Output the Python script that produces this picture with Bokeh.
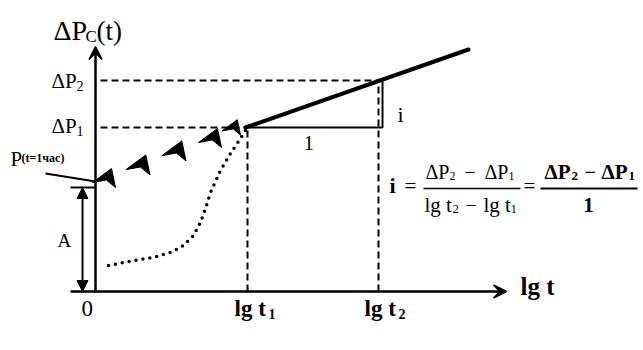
from bokeh.plotting import figure
from bokeh.models import Range1d, Arrow, VeeHead, NormalHead
from bokeh.core.properties import value
from bokeh.embed import file_html
from bokeh.resources import INLINE

# ---- schematic values (1 unit = 10 px) ----
LG_T_TICKS = [0.0, 15.2, 28.3]          # 0, lg t1, lg t2
DP_LEVELS = [16.4, 21.1]                # dP1, dP2
A_LEVEL = 10.4                          # A = P(t=1 hour)
P1H_LEVEL = 11.0
STRAIGHT_X = [15.0, 37.3]
STRAIGHT_Y = [16.4, 24.2]
SLOPE_CORNER_X = 28.7
CURVE_X = [1.3, 3.8, 5.8, 7.5, 8.8, 9.8, 10.5, 11.0, 11.5, 12.5, 13.5, 14.5, 15.0]
CURVE_Y = [2.6, 3.1, 3.4, 3.9, 4.6, 5.6, 6.9, 8.3, 9.9, 12.1, 13.8, 15.3, 16.1]
FLOW_X = [1.0, 4.4, 8.0, 11.6, 13.7]
FLOW_Y = [11.2, 12.5, 13.9, 15.2, 16.3]
FLOW_SCALE = [1.0, 1.05, 1.05, 1.0, 0.8]

FONT = value("Liberation Serif")
X0, Y0 = 95.0, 291.0
TEXT_SHIFT = 8.0


def dx(px_):
    return (px_ - X0) / 10.0


def dy(py_):
    return (Y0 - py_) / 10.0


p = figure(width=643, height=350, output_backend="svg", toolbar_location=None,
           x_range=Range1d(dx(0), dx(643)), y_range=Range1d(dy(350), dy(0)),
           x_axis_type=None, y_axis_type=None, min_border=0)
p.grid.visible = False
p.outline_line_color = None
p.background_fill_color = "white"
p.border_fill_color = "white"

# axes
p.add_layout(Arrow(end=VeeHead(size=13, fill_color="black", line_color="black", line_width=1.5),
                   x_start=0, y_start=-0.1, x_end=0, y_end=dy(46), line_width=2.5, line_color="black"))
p.add_layout(Arrow(end=VeeHead(size=13, fill_color="black", line_color="black", line_width=1.5),
                   x_start=dx(70), y_start=0, x_end=dx(506), y_end=0, line_width=2.5, line_color="black"))

# dashed guides
p.line([0.5, SLOPE_CORNER_X - 0.3], [DP_LEVELS[1]] * 2, line_dash="7 4", line_width=2, line_color="black")
p.line([0.5, LG_T_TICKS[1]], [DP_LEVELS[0]] * 2, line_dash="7 4", line_width=2, line_color="black")
p.line([LG_T_TICKS[1]] * 2, [0, DP_LEVELS[0] - 0.2], line_dash="7 4", line_width=2, line_color="black")
p.line([LG_T_TICKS[2]] * 2, [0, DP_LEVELS[1]], line_dash="7 4", line_width=2, line_color="black")

# straight line
p.line(STRAIGHT_X, STRAIGHT_Y, line_width=4, line_color="black", line_cap="round")
# slope triangle
p.line([STRAIGHT_X[0], SLOPE_CORNER_X, SLOPE_CORNER_X], [DP_LEVELS[0], DP_LEVELS[0], DP_LEVELS[1]],
       line_width=2, line_color="black")

# dotted S curve
p.line(CURVE_X, CURVE_Y, line_width=3.5, line_dash="0 7", line_cap="round", line_color="black")

# flow arrowheads
tmpl = [(0.6, 1.1), (-1.3, -0.3), (0.08, -0.05), (1.0, -0.8)]
xs, ys = [], []
for cx, cy, s in zip(FLOW_X, FLOW_Y, FLOW_SCALE):
    xs.append([cx + s * a for a, b in tmpl])
    ys.append([cy + s * b for a, b in tmpl])
p.patches(xs, ys, fill_color="black", line_color="black", line_width=1)

# P(t=1 hour) leader
p.line([dx(45), 0], [dy(173), P1H_LEVEL], line_width=2, line_color="black")

# A dimension
p.line([dx(70), 0], [A_LEVEL, A_LEVEL], line_width=2, line_color="black")
p.add_layout(Arrow(start=NormalHead(size=11, fill_color="black", line_color="black"),
                   end=NormalHead(size=11, fill_color="black", line_color="black"),
                   x_start=dx(82), y_start=0, x_end=dx(82), y_end=A_LEVEL,
                   line_width=2, line_color="black"))


def label(px_, py_, s, size, bold=False, align="left"):
    p.text(x=[dx(px_)], y=[dy(py_ - TEXT_SHIFT)], text=[s], text_font=FONT,
           text_font_size=f"{size}px",
           text_font_style="bold" if bold else "normal", text_align=align,
           text_baseline="alphabetic", text_color="black")


# y axis title
label(53, 38, "ΔP", 28)
label(85, 44, "C", 17)
label(96, 38, "(t)", 27)

# y levels
label(51, 88, "ΔP", 21)
label(76, 93, "2", 14)
label(51, 133, "ΔP", 21)
label(76, 138, "1", 14)

# P(t=1 hour)
label(10, 166, "P", 21)
label(21, 165, "(t=1час)", 12, bold=True)

label(57, 248, "A", 19)

# x ticks
label(81, 316, "0", 23)
label(234, 316, "lg t", 23, bold=True)
label(268, 321, "1", 14, bold=True)
label(364, 316, "lg t", 23, bold=True)
label(398, 321, "2", 14, bold=True)
label(520, 294, "lg t", 25, bold=True)

# slope triangle labels
label(303, 150, "1", 21)
label(397, 122, "i", 22)

# formula
label(389, 193, "i", 22, bold=True)
label(404, 193, "=", 21)
label(425, 179, "ΔP", 20)
label(449, 183, "2", 12)
label(464, 179, "−", 20)
label(484, 179, "ΔP", 20)
label(508, 183, "1", 12)
p.line([dx(423), dx(520)], [dy(188)] * 2, line_width=1.5, line_color="black")
label(424, 212, "lg t", 21)
label(452, 216, "2", 13)
label(465, 212, "−", 20)
label(483, 212, "lg t", 21)
label(510, 216, "1", 13)
label(523, 193, "=", 21)
label(544, 179, "ΔP", 21, bold=True)
label(571, 183, "2", 13, bold=True)
label(584, 179, "−", 20, bold=True)
label(601, 179, "ΔP", 21, bold=True)
label(628, 183, "1", 13, bold=True)
p.line([dx(540), dx(637)], [dy(188)] * 2, line_width=2, line_color="black")
label(588, 212, "1", 21, bold=True, align="center")

open("out.html", "w").write(file_html(p, INLINE))
